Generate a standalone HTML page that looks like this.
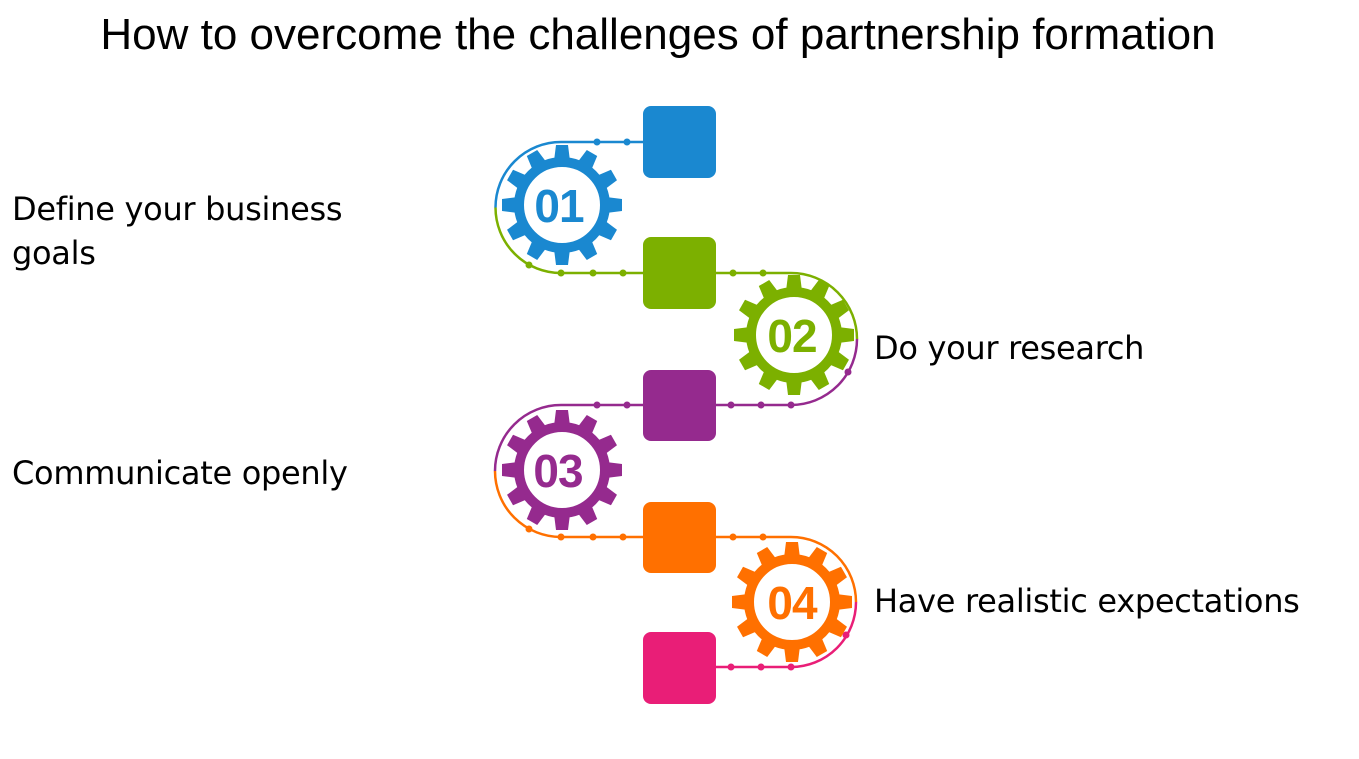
<!DOCTYPE html>
<html><head><meta charset="utf-8"><style>
body{margin:0;width:1359px;height:759px;background:#fff;overflow:hidden;position:relative;font-family:"Liberation Sans",sans-serif}
.t{position:absolute;color:#000;font-size:32px;line-height:44px;font-family:"DejaVu Sans","Liberation Sans",sans-serif;letter-spacing:-0.3px}
</style></head><body>
<div style="position:absolute;left:0;width:1316px;top:10px;text-align:center;font-size:44px;color:#000">How to overcome the challenges of partnership formation</div>
<div class="t" style="left:12px;top:187px;width:400px">Define your business<br>goals</div>
<div class="t" style="left:874px;top:326px">Do your research</div>
<div class="t" style="left:12px;top:451px">Communicate openly</div>
<div class="t" style="left:874px;top:579px">Have realistic expectations</div>
<svg width="1359" height="759" style="position:absolute;left:0;top:0">
<defs>
<g id="gear">
<circle r="43" fill="none" stroke-width="10" stroke="currentColor"/>
<g fill="currentColor">
<path d="M-8 -44 L-6 -60 H6 L8 -44Z" transform="rotate(0)"/>
<path d="M-8 -44 L-6 -60 H6 L8 -44Z" transform="rotate(30)"/>
<path d="M-8 -44 L-6 -60 H6 L8 -44Z" transform="rotate(60)"/>
<path d="M-8 -44 L-6 -60 H6 L8 -44Z" transform="rotate(90)"/>
<path d="M-8 -44 L-6 -60 H6 L8 -44Z" transform="rotate(120)"/>
<path d="M-8 -44 L-6 -60 H6 L8 -44Z" transform="rotate(150)"/>
<path d="M-8 -44 L-6 -60 H6 L8 -44Z" transform="rotate(180)"/>
<path d="M-8 -44 L-6 -60 H6 L8 -44Z" transform="rotate(210)"/>
<path d="M-8 -44 L-6 -60 H6 L8 -44Z" transform="rotate(240)"/>
<path d="M-8 -44 L-6 -60 H6 L8 -44Z" transform="rotate(270)"/>
<path d="M-8 -44 L-6 -60 H6 L8 -44Z" transform="rotate(300)"/>
<path d="M-8 -44 L-6 -60 H6 L8 -44Z" transform="rotate(330)"/>
</g>
</g>
</defs>
<g fill="none" stroke-width="2.5">
<path d="M643 142 H561 A65.5 65.5 0 0 0 495.5 207.5" stroke="#1a88d0"/>
<path d="M495.5 207.5 A65.5 65.5 0 0 0 561 273 H643" stroke="#7cb000"/>
<path d="M716 273 H791 A66 66 0 0 1 857 339" stroke="#7cb000"/>
<path d="M857 339 A66 66 0 0 1 791 405 H716" stroke="#952a8e"/>
<path d="M643 405 H561 A66 66 0 0 0 495 471" stroke="#952a8e"/>
<path d="M495 471 A66 66 0 0 0 561 537 H643" stroke="#ff7000"/>
<path d="M716 537 H791 A65 65 0 0 1 856 602" stroke="#ff7000"/>
<path d="M856 602 A65 65 0 0 1 791 667 H716" stroke="#e91e77"/>
</g>
<g>
<circle cx="597" cy="142" r="3.5" fill="#1a88d0"/><circle cx="627" cy="142" r="3.5" fill="#1a88d0"/>
<circle cx="561" cy="273" r="3.5" fill="#7cb000"/><circle cx="593" cy="273" r="3.5" fill="#7cb000"/><circle cx="623" cy="273" r="3.5" fill="#7cb000"/><circle cx="529" cy="265" r="3.5" fill="#7cb000"/>
<circle cx="733" cy="273" r="3.5" fill="#7cb000"/><circle cx="763" cy="273" r="3.5" fill="#7cb000"/>
<circle cx="731" cy="405" r="3.5" fill="#952a8e"/><circle cx="761" cy="405" r="3.5" fill="#952a8e"/><circle cx="791" cy="405" r="3.5" fill="#952a8e"/><circle cx="848" cy="372" r="3.5" fill="#952a8e"/>
<circle cx="597" cy="405" r="3.5" fill="#952a8e"/><circle cx="627" cy="405" r="3.5" fill="#952a8e"/>
<circle cx="561" cy="537" r="3.5" fill="#ff7000"/><circle cx="593" cy="537" r="3.5" fill="#ff7000"/><circle cx="623" cy="537" r="3.5" fill="#ff7000"/><circle cx="529" cy="529" r="3.5" fill="#ff7000"/>
<circle cx="733" cy="537" r="3.5" fill="#ff7000"/><circle cx="763" cy="537" r="3.5" fill="#ff7000"/>
<circle cx="731" cy="667" r="3.5" fill="#e91e77"/><circle cx="761" cy="667" r="3.5" fill="#e91e77"/><circle cx="791" cy="667" r="3.5" fill="#e91e77"/><circle cx="846" cy="635" r="3.5" fill="#e91e77"/>
</g>
<use href="#gear" x="562" y="205" style="color:#1a88d0"/>
<use href="#gear" x="794" y="335" style="color:#7cb000"/>
<use href="#gear" x="562" y="470" style="color:#952a8e"/>
<use href="#gear" x="792" y="602" style="color:#ff7000"/>
<g font-family="Liberation Sans,sans-serif" font-weight="bold" font-size="46" text-anchor="middle">
<text x="559" y="222" fill="#1a88d0" letter-spacing="-1">01</text>
<text x="792" y="352" fill="#7cb000" letter-spacing="-1">02</text>
<text x="558" y="487" fill="#952a8e" letter-spacing="-1">03</text>
<text x="792" y="619" fill="#ff7000" letter-spacing="-1">04</text>
</g>
<rect x="643" y="106" width="73" height="72" rx="8" fill="#1a88d0"/>
<rect x="643" y="237" width="73" height="72" rx="8" fill="#7cb000"/>
<rect x="643" y="370" width="73" height="71" rx="8" fill="#952a8e"/>
<rect x="643" y="502" width="73" height="71" rx="8" fill="#ff7000"/>
<rect x="643" y="632" width="73" height="72" rx="8" fill="#e91e77"/>
</svg>
</body></html>
